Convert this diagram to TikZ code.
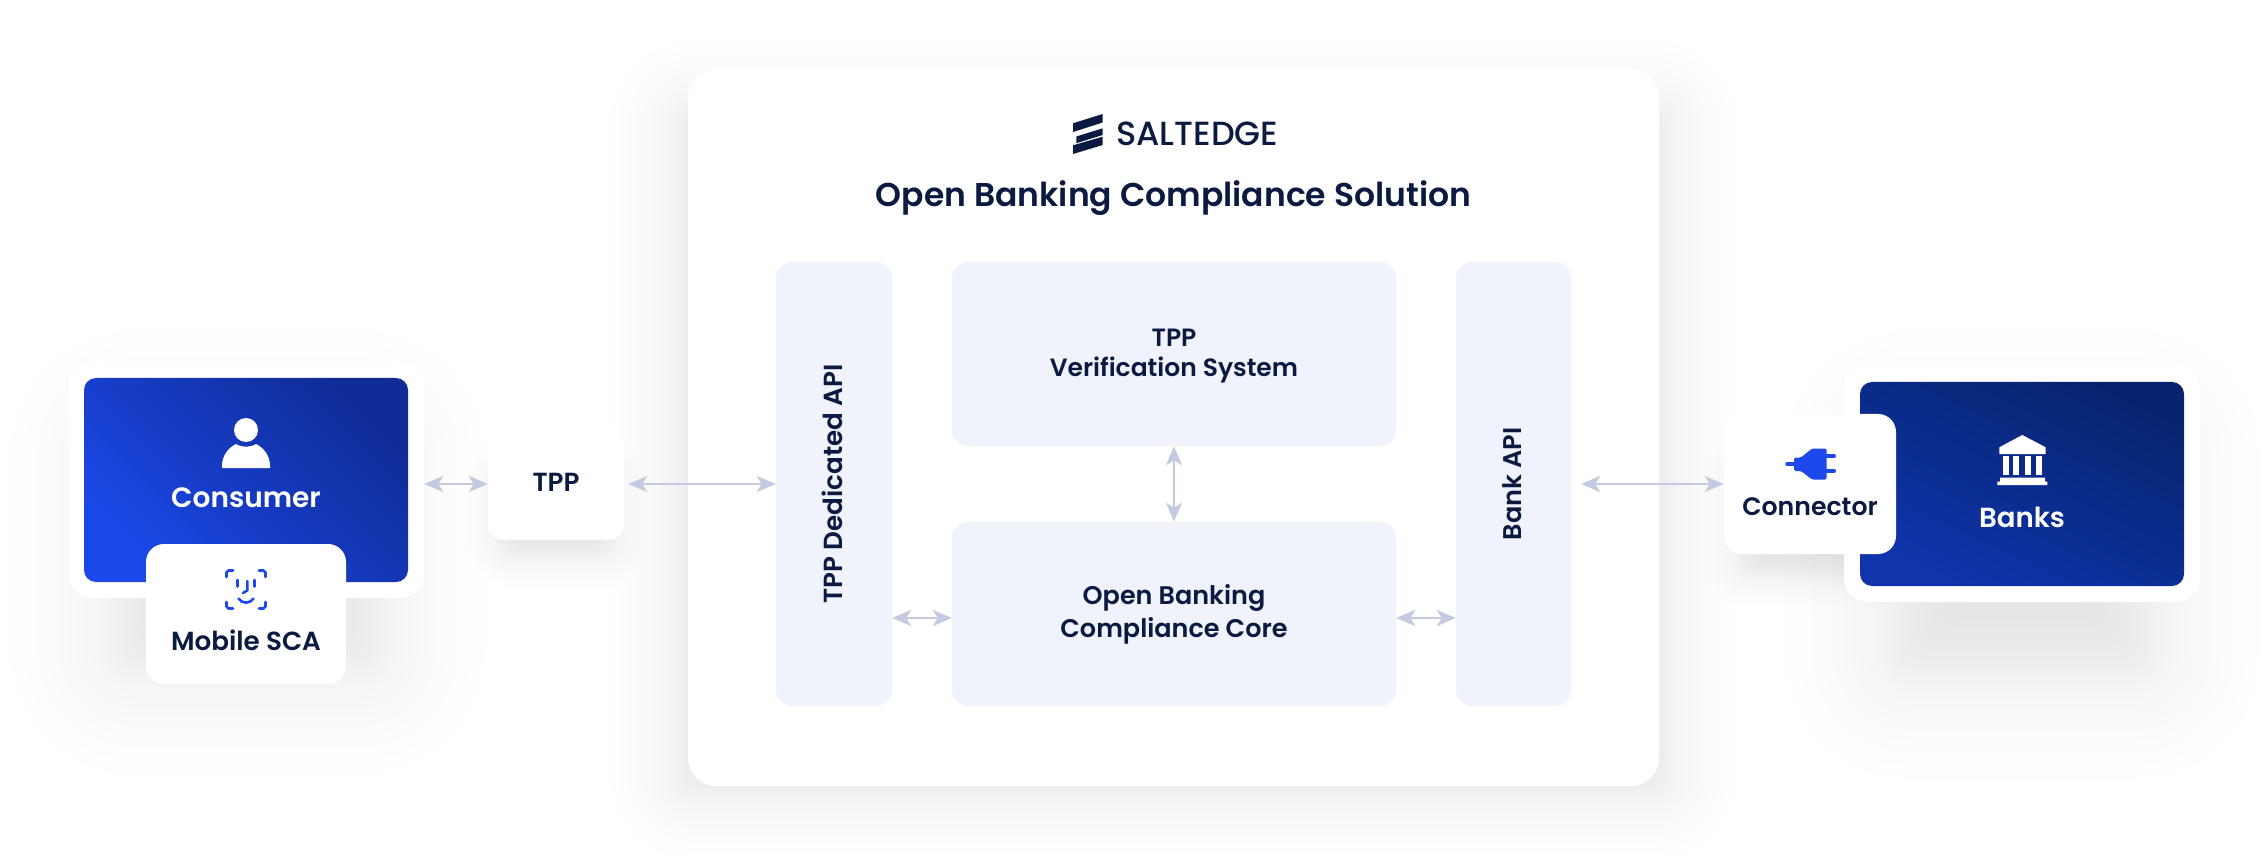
\documentclass[tikz,border=0pt]{standalone}
\usepackage{fontspec}
\setmainfont{Poppins}[BoldFont={* SemiBold}]
\newfontfamily\popmed{Poppins Medium}
\usetikzlibrary{arrows.meta}
\definecolor{ink}{HTML}{0B1A40}
\definecolor{panel}{HTML}{F0F3FB}
\definecolor{arr}{HTML}{C3CBE0}
\definecolor{iconblue}{HTML}{1C48EC}
\definecolor{shad}{HTML}{C9CBDC}
\definecolor{consA}{HTML}{1B48E8}
\definecolor{consB}{HTML}{102C96}
\definecolor{bankA}{HTML}{0F34AC}
\definecolor{bankB}{HTML}{06246E}
\tikzset{
 whitebox/.style={fill=white,rounded corners=#1,inner sep=0},
 panelbox/.style={fill=panel,rounded corners=16,draw=none,inner sep=0},
 paneltext/.style={align=center,text=ink,inner sep=0,font=\fontsize{25}{33}\selectfont\bfseries},
 cardtext/.style={text=ink,inner sep=0,font=\fontsize{26.2}{33}\selectfont\bfseries},
 whitetext/.style={text=white,inner sep=0,font=\fontsize{28}{33}\selectfont\bfseries},
 biarrow/.style={draw=arr,line width=2.6pt,{Stealth[length=19pt,width=16pt,inset=5pt]}-{Stealth[length=19pt,width=16pt,inset=5pt]}},
 faceline/.style={draw=iconblue,line width=2.6pt,line cap=round,line join=round},
}
% soft shadow: x0,y0,x1,y1 (mid edge), spread, opacity per layer
\newcommand{\softshadow}[6]{%
 \foreach \i in {0,...,29}{%
  \pgfmathsetmacro{\v}{1-2*\i/29}%
  \pgfmathsetmacro{\d}{#5*(0.5*\v+0.5*\v*\v*\v)}%
  \pgfmathsetmacro{\rr}{max(\d,0)+16}%
  \fill[shad,opacity=#6,rounded corners=\rr pt] (#1-\d,#2-\d) rectangle (#3+\d,#4+\d);
 }}
\begin{document}
\begin{tikzpicture}[x=1pt,y=-1pt]
\useasboundingbox (0,0) rectangle (2268,866);
\fill[white] (0,0) rectangle (2268,866);
% shadows
\softshadow{120}{440}{375}{665}{110}{0.014}
\softshadow{1895}{440}{2150}{670}{110}{0.014}
\softshadow{680}{110}{1667}{790}{70}{0.01}
\softshadow{500}{470}{612}{555}{35}{0.006}
\softshadow{1740}{460}{1880}{575}{35}{0.006}
% main card
\node[whitebox=28,minimum width=971pt,minimum height=717pt] (main) at (1173.5,427.5) {};
\node[panelbox,minimum width=116pt,minimum height=444pt] (dapi) at (834,484) {};
\node[paneltext,font=\fontsize{26.2}{33}\selectfont\bfseries,rotate=90] (dapitext) at (832,484) {TPP Dedicated API};
\node[panelbox,minimum width=444pt,minimum height=184pt] (verif) at (1174,354) {};
\node[paneltext] (veriftext) at (1174,356) {TPP\\[-3pt]Verification System};
\node[panelbox,minimum width=444pt,minimum height=184pt] (core) at (1174,614) {};
\node[paneltext,font=\fontsize{25.5}{33}\selectfont\bfseries] (coretext) at (1174,614) {Open Banking\\Compliance Core};
\node[panelbox,minimum width=115pt,minimum height=444pt] (bapi) at (1513.5,484) {};
\node[paneltext,font=\fontsize{25.6}{33}\selectfont\bfseries,rotate=90] (bapitext) at (1512.5,484) {Bank API};
% header
\fill[ink] (1073,123.3) -- (1102.7,114) -- (1102.7,122.5) -- (1073,132) -- cycle;
\fill[ink] (1076.3,136.5) -- (1102.7,128.3) -- (1102.7,135) -- (1076.3,143.2) -- cycle;
\fill[ink] (1073,145.3) -- (1102.7,136.7) -- (1102.7,145) -- (1073,154) -- cycle;
\node[text=ink,font=\popmed\fontsize{33.5}{33}\selectfont,anchor=base west,inner sep=0] (brand) at (1116,145.5) {SALTEDGE};
\node[text=ink,font=\fontsize{33}{33}\selectfont\bfseries,inner sep=0] (title) at (1173.5,198) {Open Banking Compliance Solution};
% consumer
\node[whitebox=24,minimum width=355pt,minimum height=236pt] (cframe) at (246.5,480) {};
\node[rounded corners=12,inner sep=0,left color=consA,right color=consB,shading angle=135,minimum width=324pt,minimum height=204pt] (consumer) at (246,480) {};
\fill[white] (246,430) circle (12);
\fill[white] (222,468) -- (222,466) .. controls (222,456) and (228,448) .. (236,444) .. controls (241,447.5) and (251,447.5) .. (256,444) .. controls (264,448) and (270,456) .. (270,466) -- (270,468) -- cycle;
\node[whitetext] (consumertext) at (246,498) {Consumer};
\node[whitebox=18,minimum width=200pt,minimum height=140pt] (sca) at (246,614) {};
\draw[faceline] (226.5,577) -- (226.5,572.5) -- (228.5,570.5) -- (233,570.5);
\draw[faceline] (259,570.5) -- (263.5,570.5) -- (265.5,572.5) -- (265.5,577);
\draw[faceline] (226.5,602) -- (226.5,606.5) -- (228.5,608.5) -- (233,608.5);
\draw[faceline] (259,608.5) -- (263.5,608.5) -- (265.5,606.5) -- (265.5,602);
\draw[faceline] (237.7,580) -- (237.7,586.5);
\draw[faceline] (254.3,580) -- (254.3,586.5);
\draw[faceline] (247.3,581) -- (247.3,590.5) -- (243,593);
\draw[faceline] (238.5,598.5) .. controls (242,604) and (250,604) .. (253.5,598.5);
\node[cardtext] (scatext) at (246,640) {Mobile SCA};
\node[whitebox=16,minimum width=136pt,minimum height=112pt] (tpp) at (556,484) {};
\node[cardtext] (tpptext) at (556,482.5) {TPP};
% banks
\node[whitebox=24,minimum width=356pt,minimum height=236pt] (bframe) at (2022,484) {};
\node[rounded corners=12,inner sep=0,left color=bankA,right color=bankB,shading angle=155,minimum width=324pt,minimum height=204pt] (banks) at (2022,484) {};
\fill[white] (2022.3,435) -- (1999.3,447.3) -- (1999.3,454) -- (2045.7,454) -- (2045.7,447.3) -- cycle;
\foreach \cx in {2002.7,2013.3,2024.7,2036}{\fill[white] (\cx,455.7) rectangle ++(5.8,19.3);}
\fill[white] (2000,477.5) -- (2045,477.5) -- (2045,481.7) -- (2047.3,481.7) -- (2047.3,485) -- (1997.3,485) -- (1997.3,481.7) -- (2000,481.7) -- cycle;
\node[whitetext,font=\fontsize{27.6}{33}\selectfont\bfseries] (bankstext) at (2022,517) {Banks};
\node[whitebox=18,minimum width=172pt,minimum height=140pt] (conn) at (1810,484) {};
\draw[iconblue,line width=3.5pt,line cap=round] (1787,464) -- (1795,464);
\fill[iconblue,rounded corners=1.5pt] (1794,457.5) -- (1801,457.5) -- (1812,448.5) -- (1826.5,448.5) -- (1826.5,479.5) -- (1812,479.5) -- (1801,471) -- (1794,471) -- cycle;
\draw[iconblue,line width=4pt,line cap=round] (1826,456) -- (1834,456);
\draw[iconblue,line width=4pt,line cap=round] (1826,471) -- (1834,471);
\node[cardtext,font=\fontsize{25.2}{33}\selectfont\bfseries] (conntext) at (1810,507) {Connector};
% connectors
\draw[biarrow] (cframe.east |- tpp.west) -- (tpp.west);
\draw[biarrow,shorten <=4pt] (tpp.east) -- (dapi.west |- tpp.east);
\draw[biarrow,shorten <=10pt] (bapi.east |- conn.west) -- (conn.west);
\draw[biarrow] (verif.south) -- (core.north);
\draw[biarrow] ([yshift=-4pt]dapi.east |- core.west) -- ([yshift=-4pt]core.west);
\draw[biarrow] ([yshift=-4pt]core.east) -- ([yshift=-4pt]bapi.west |- core.east);
\end{tikzpicture}
\end{document}
